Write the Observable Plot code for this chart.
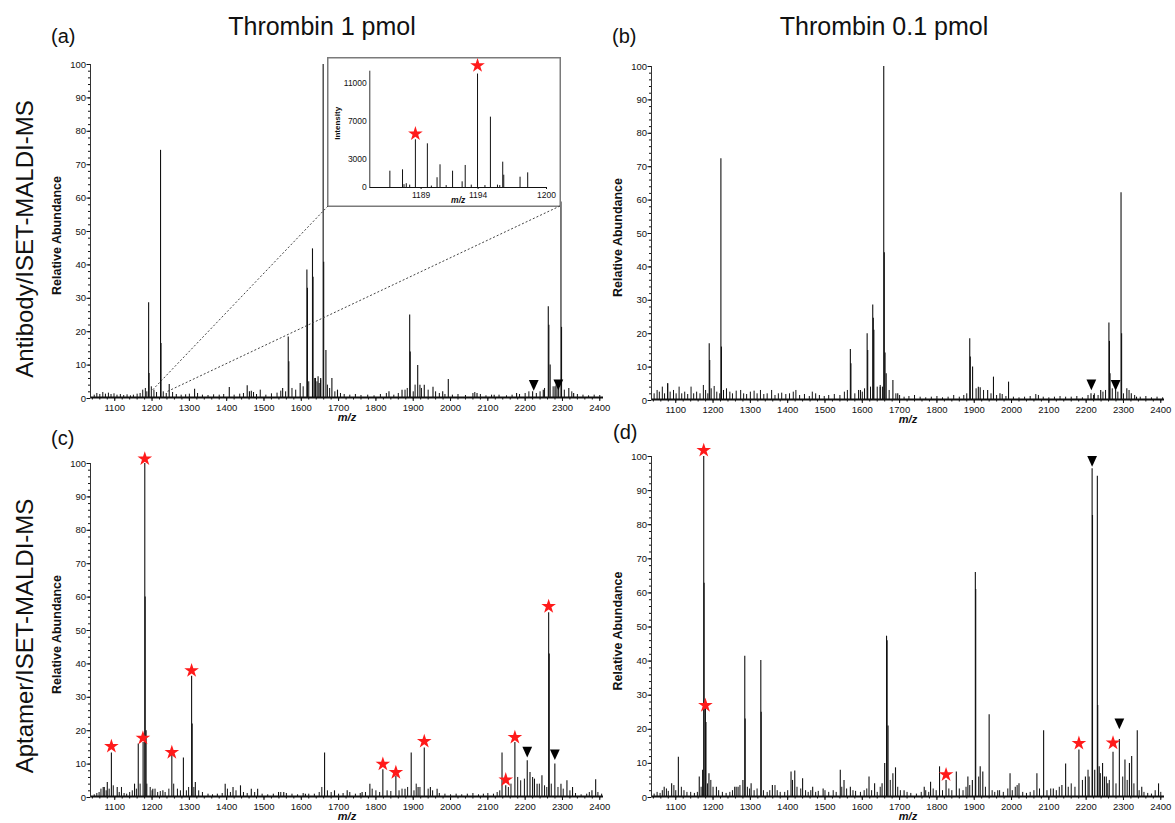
<!DOCTYPE html>
<html><head><meta charset="utf-8">
<script src="https://cdn.jsdelivr.net/npm/d3@7"></script>
<script src="https://cdn.jsdelivr.net/npm/@observablehq/plot@0.6"></script>
<style>
body{margin:0;background:#fff;overflow:hidden}
#root{position:relative;width:1175px;height:823px;overflow:hidden;background:#fff}
</style></head><body><div id="root"></div>
<script>
// ---------- data (m/z, relative abundance) ----------
const xTicks = [1100,1200,1300,1400,1500,1600,1700,1800,1900,2000,2100,2200,2300,2400];
const yTicks = [0,10,20,30,40,50,60,70,80,90,100];
const insetXTicks = [1189,1194,1200];
const insetYTicks = [0,3000,7000,11000];

const peaksA = [[1190.8,28.7],[1192,7.5],[1222.7,74.3],[1224,16.5],[1246,4.2],[1314,2.8],[1407,3.3],[1455,3.8],[1461,2],[1466,2.2],[1550,3],[1565,18.4],[1566.5,11],[1597,4.5],[1615,38.5],[1616.5,33],[1630,44.8],[1631.5,36.3],[1638,6],[1645,6.5],[1652,6],[1658.6,100],[1660,40.8],[1666,14.4],[1682,6],[1697,2.5],[1835,2],[1870,2.5],[1890.5,25],[1892,13.9],[1912,9.9],[1918,4],[1929.6,4],[1953,3.4],[1979,2],[1994,5.7],[2071,1.5],[2117,1],[2177,1.5],[2220,2],[2248.6,2.5],[2262,27.5],[2263.5,21.9],[2267,10],[2280,3.5],[2288,4],[2296,58.8],[2297.5,21.3],[2317,3],[2330,1.5]];
const noiseA = [[1045,1],[1052,1.5],[1060,1.2],[1068,1.8],[1075,1.3],[1083,1.6],[1090,1.2],[1098,1.4],[1106,1],[1115,1.2],[1124,0.9],[1133,1.1],[1142,0.8],[1150,1],[1160,1.3],[1168,1.5],[1175,2.5],[1182,3],[1186,2],[1198,3.5],[1205,2.5],[1212,1.8],[1230,2],[1238,1.5],[1255,1.8],[1265,1.2],[1278,1],[1290,1.1],[1300,1.3],[1322,1.5],[1335,1],[1350,0.9],[1365,1.1],[1380,1],[1392,1.2],[1420,1],[1435,1.3],[1445,1.5],[1472,1.8],[1480,1.2],[1490,2.5],[1505,1],[1520,1.4],[1535,1.6],[1545,2.2],[1558,2],[1575,3],[1585,2.5],[1605,3.5],[1620,5],[1636,6],[1642,5],[1648,4.5],[1652,5.5],[1670,4],[1676,3],[1690,2],[1705,1.5],[1715,1.2],[1730,1],[1745,1.2],[1760,0.9],[1778,1],[1795,0.8],[1812,1.2],[1828,1.5],[1848,1],[1860,1.5],[1878,2.5],[1884,3],[1900,2],[1905,4],[1922,3],[1940,2.5],[1960,2],[1970,1.5],[1985,1.2],[2005,1],[2020,1.2],[2040,0.9],[2060,1.5],[2065,1.8],[2080,1.2],[2095,0.8],[2110,1],[2130,1],[2150,0.8],[2165,1],[2185,1.2],[2200,1.5],[2210,2],[2230,1.5],[2240,2],[2252,3],[2275,3.5],[2283,4],[2290,3],[2305,2.5],[2325,2],[2340,1.2],[2355,1],[2370,0.8],[2385,1],[2400,0.9]];
const trisA = [[2223,3.9],[2289,4.1]];

const peaksB = [[1078.7,5],[1189.7,17],[1191,12],[1221,72.4],[1222.5,16],[1568,15.3],[1569.5,11],[1595,3],[1613,20],[1614.5,15],[1628,28.6],[1629.5,24.6],[1631,21],[1648,4],[1657.5,100],[1659,44.2],[1661,14.2],[1664,8],[1682,6],[1695,2],[1888,18.5],[1889.5,13],[1895.6,10],[1911,4],[1916,3.8],[1936,3],[1951.6,7],[1969,2],[1992,5.5],[2213,2],[2220,1.5],[2239,3],[2261,23.2],[2262.5,17.7],[2264,8],[2279,3],[2293.5,62.2],[2295,20],[2309,3.5],[2321,2],[2335,1]];
const noiseB = [[1042,2],[1050,3],[1056,2.5],[1064,4],[1070,2],[1078,5],[1085,2.5],[1094,3],[1101,2],[1109,4],[1116,2],[1124,2.5],[1132,1.8],[1141,4],[1148,2],[1156,2.5],[1165,2],[1174,4.5],[1180,3],[1186,2],[1195,3.5],[1203,4.2],[1210,2.5],[1218,2],[1228,3],[1236,3.5],[1245,2.5],[1252,2],[1262,2.8],[1274,3],[1282,2],[1290,1.8],[1300,2.5],[1310,2.8],[1318,2],[1327,3],[1336,1.8],[1345,2],[1357,3],[1366,1.5],[1375,2],[1384,2.2],[1395,1.8],[1405,2],[1415,2.5],[1422,3],[1432,1.5],[1445,1.8],[1458,1.2],[1466,2.5],[1475,2],[1485,1.5],[1498,1.2],[1510,1.5],[1525,1.8],[1540,1.5],[1552,2.5],[1560,3],[1580,2],[1590,3],[1600,2.5],[1606,3.5],[1622,4],[1640,4],[1648,4.5],[1654,4],[1672,3],[1690,2],[1700,1.5],[1712,1],[1725,1.2],[1740,1.5],[1755,1],[1770,0.8],[1785,1],[1800,1.2],[1815,0.8],[1830,1],[1845,1.5],[1860,1],[1872,1.5],[1880,2],[1905,3.5],[1925,3],[1945,2],[1960,1.5],[1975,1.8],[1985,1.2],[2005,1],[2020,0.8],[2035,1],[2050,1.2],[2065,1.8],[2072,1.5],[2085,1],[2100,0.8],[2115,1],[2130,1.2],[2145,1],[2160,1],[2175,1.2],[2190,0.8],[2205,1.5],[2222,2],[2232,1.5],[2245,2.5],[2252,3],[2270,3.5],[2285,2.5],[2300,2],[2315,3],[2330,1.5],[2345,1],[2360,1.2],[2375,0.8],[2390,1],[2405,0.8]];
const trisB = [[2214,4.7],[2279,4.5]];

const peaksC = [[1069,3],[1080,4.5],[1091,13.3],[1106.6,3],[1153,4],[1163,16],[1176,16.5],[1180.5,100],[1181.5,60],[1184,20],[1202,2.5],[1229,2],[1253,12.8],[1284,11.8],[1306,36.3],[1307.5,22],[1316,4.5],[1396,4],[1417,3],[1437,3.5],[1466,2.5],[1483,2.5],[1539,1.5],[1553,1.5],[1611,1],[1662.4,13.3],[1689,2],[1723,2],[1763,1.5],[1783.8,4],[1818.6,8.3],[1853.5,6.3],[1878,2.5],[1894.6,13.3],[1913,3],[1929.6,14.8],[1946,3],[1964,2.5],[2138,13.3],[2148,3.5],[2172.5,16.5],[2205.6,11],[2213,7.5],[2220,6],[2225,5.5],[2232,4],[2245,6.5],[2263,55.3],[2264.5,43],[2279.6,10],[2296,4],[2312,5],[2327,3],[2379,2],[2389,5.3]];
const noiseC = [[1045,0.8],[1052,1.2],[1058,1.5],[1063,2.5],[1072,3],[1077,2],[1085,2.5],[1096,3.5],[1112,1.5],[1118,3],[1125,1.2],[1132,1],[1140,1.5],[1147,2],[1158,2.5],[1168,4],[1186,4],[1195,3],[1200,2],[1208,2.5],[1215,1.5],[1222,1.8],[1235,1.5],[1245,2.5],[1258,4],[1268,2.5],[1276,2],[1292,2],[1298,3],[1312,3],[1325,2],[1335,1.5],[1350,1],[1362,0.8],[1375,1],[1388,1.2],[1402,2.5],[1410,1.5],[1425,2],[1445,1.5],[1455,1.2],[1475,1.5],[1495,1],[1510,0.8],[1525,1],[1545,1.5],[1560,1.2],[1575,1],[1590,0.8],[1605,1.2],[1620,1],[1635,1],[1648,1.5],[1655,3],[1670,2],[1680,1.5],[1700,1],[1712,1.2],[1730,1.5],[1745,1],[1758,1.2],[1772,1.5],[1790,2.5],[1800,2],[1810,1.5],[1830,2],[1840,1.8],[1862,2],[1870,2.5],[1885,3],[1902,2],[1908,4],[1918,3],[1940,2.5],[1952,2],[1970,1.2],[1985,1],[2000,0.8],[2015,1],[2030,0.8],[2045,1],[2060,1.2],[2075,0.8],[2088,1],[2100,1.2],[2115,1],[2125,1.5],[2132,2],[2155,3],[2162,4],[2180,6],[2188,5],[2198,5.5],[2238,4],[2252,3.5],[2258,3],[2270,4],[2288,3],[2302,2.5],[2320,2],[2335,1.2],[2350,0.8],[2365,1],[2372,1.5],[2395,1.5],[2405,1]];
const starsC = [[1091,15.3],[1175.5,17.8],[1180.5,101.4],[1253,13.5],[1306,38],[1818.6,10],[1853.5,7.5],[1929.6,16.8],[2148,5.3],[2172.5,18],[2263,57.2]];
const trisC = [[2205.6,13.6],[2279.6,12.8]];

const peaksD = [[1069,3],[1089,4],[1107,11.8],[1163,6],[1172,8],[1175,100],[1176,62.8],[1179.5,26],[1181,22],[1189,7],[1209,3],[1258,3],[1267,3],[1280,5],[1285,41.4],[1286,23],[1302,4],[1328,40.2],[1329,25],[1359,3.5],[1409,7.5],[1419,7.8],[1440,5.5],[1467,3],[1495,2.5],[1541,8],[1551,5],[1568,3],[1618,6],[1633,4],[1653,4],[1660,10],[1665,47.3],[1666.5,46],[1669,21],[1682,7],[1689,8.7],[1712,2],[1766,3],[1783,4.5],[1807,9],[1824.5,5],[1852,7.5],[1883,6],[1895,5],[1903,66],[1904,61],[1916,9],[1923,7.5],[1940,24.3],[1963,2],[1996,7],[2020,4],[2068,7],[2086,19.6],[2112,2.5],[2135,3.5],[2145,9.8],[2180.6,13.9],[2198,6],[2216,96.4],[2217,82.7],[2223,8],[2230,94.2],[2231,27],[2235,9],[2244,10],[2249,6],[2258,4],[2272,13.3],[2289,17],[2304,11],[2316,10],[2322,12],[2337,19.6],[2349,3],[2394,4]];
const noiseD = [[1042,1],[1050,1.5],[1058,1.2],[1064,2],[1075,2.5],[1080,1.8],[1095,3.5],[1100,2],[1115,3],[1122,2],[1130,1.5],[1140,1.5],[1150,1.2],[1158,1.5],[1168,3],[1185,4],[1194,5],[1200,3],[1215,2],[1225,1.5],[1235,1.2],[1245,1.5],[1252,2],[1262,3],[1272,3.5],[1292,3],[1298,2.5],[1310,2],[1318,2.5],[1335,2],[1345,1.5],[1352,2],[1366,3.5],[1372,2],[1380,1.5],[1392,1.5],[1400,2],[1413,5],[1425,3],[1435,2.5],[1448,2],[1455,1.5],[1462,2],[1475,1.5],[1482,1.8],[1500,2],[1510,1.5],[1522,2],[1530,1.5],[1545,3],[1558,2.5],[1575,2],[1582,1.8],[1595,1.5],[1605,2],[1612,2.5],[1625,2],[1640,1.5],[1648,3],[1675,5],[1695,3],[1702,2],[1720,1.5],[1730,1.2],[1745,1],[1758,1.5],[1770,2],[1778,1.5],[1790,2.5],[1798,2],[1815,2],[1832,2.5],[1840,2],[1860,2.5],[1870,2],[1878,3],[1888,3.5],[1912,6],[1930,3],[1948,2],[1955,1.5],[1968,2],[1978,1.5],[1990,2.5],[2002,2],[2010,3],[2015,3.5],[2030,1.5],[2040,1.2],[2050,1.5],[2060,2],[2075,2.5],[2095,2],[2105,2.5],[2120,2],[2128,3],[2152,3],[2160,4],[2170,3],[2190,5],[2205,8],[2208,6],[2238,7],[2254,6],[2262,5],[2280,4],[2298,6],[2310,5],[2328,4],[2342,2],[2355,1.5],[2365,1.2],[2375,1],[2385,2],[2400,1.5]];
const starsD = [[1175,101.8],[1179.5,27],[1824.5,6.7],[2180.6,15.9],[2272,16]];
const trisD = [[2216,98.6],[2289,21.6]];

// inset (m/z, intensity)
const insetPeaks = [[1186.26,1724],[1187.37,1870],[1187.5,300],[1187.7,400],[1188.0,250],[1188.5,5045],[1189.55,4620],[1189.9,150],[1190.4,1030],[1190.66,2400],[1191.2,200],[1191.76,1724],[1192.6,600],[1192.87,2330],[1193.4,250],[1193.95,12000],[1194.6,200],[1195.08,7440],[1195.7,250],[1195.9,200],[1196.16,2680],[1196.25,1300],[1197.68,1090],[1198.35,1550]];
const insetStars = [[1188.5,5680],[1193.95,12900]];

// ---------- drawing ----------
const FONT = '"Liberation Sans", Arial, Helvetica, sans-serif';
const XDOM = [1035, 2410];
const root = document.getElementById("root");
const STAR_RED = "#ff1a1a";
const triDown = {draw(ctx, size){ const w = Math.sqrt(size)*1.45, h = w*1.1; ctx.moveTo(-w/2,-h/2); ctx.lineTo(w/2,-h/2); ctx.lineTo(0,h/2); ctx.closePath(); }};
const X = d => d[0], Y = d => d[1];

function spectrum({peaks, noise, stars = [], tris = [], left, top, height, mt}) {
  const svg = Plot.plot({
    width: 610, height, marginLeft: 90, marginRight: 7, marginTop: mt, marginBottom: 34,
    style: {fontFamily: FONT, fontSize: "9.5px", color: "#111", background: "transparent", overflow: "visible"},
    x: {domain: XDOM},
    y: {domain: [0, 100]},
    marks: [
      Plot.ruleX(noise, {x: X, y1: 0, y2: Y, stroke: "#111", strokeWidth: 1}),
      Plot.ruleX(peaks, {x: X, y1: 0, y2: Y, stroke: "#111", strokeWidth: 1.1}),
      Plot.ruleY([0.3], {stroke: "#111", strokeWidth: 1.8}),
      Plot.ruleX([XDOM[0]], {y1: 0, y2: 100, stroke: "#333", strokeWidth: 1}),
      Plot.axisX({ticks: xTicks, tickSize: 3, tickPadding: 2.5, tickFormat: d => String(d), label: null}),
      Plot.axisX({ticks: d3.range(1040, 2411, 20), tickSize: 1.5, tickFormat: () => "", label: null}),
      Plot.axisY({ticks: yTicks, tickSize: 3.5, tickPadding: 1, tickFormat: d => String(d), label: null}),
      Plot.axisY({ticks: d3.range(0, 101, 2), tickSize: 2, tickFormat: () => "", label: null}),
      Plot.text(["m/z"], {frameAnchor: "bottom", dy: 22.5, fontStyle: "italic", fontWeight: "bold", fontSize: 11}),
      Plot.text(["Relative Abundance"], {frameAnchor: "left", textAnchor: "middle", rotate: -90, dx: -34, dy: 4, fontWeight: "bold", fontSize: 12.5}),
      Plot.dot(stars, {x: X, y: Y, symbol: "star", fill: STAR_RED, stroke: "none", r: 4.6}),
      Plot.dot(tris, {x: X, y: Y, symbol: triDown, fill: "#000", stroke: "none", r: 3.8})
    ]
  });
  svg.style.position = "absolute";
  svg.style.left = left + "px";
  svg.style.top = top + "px";
  root.appendChild(svg);
  return {svg, left, top};
}

const pA = spectrum({peaks: peaksA, noise: noiseA, tris: trisA, left: 0, top: 0, height: 432, mt: 64});
const pB = spectrum({peaks: peaksB, noise: noiseB, tris: trisB, left: 561, top: 2, height: 432, mt: 64});
const pC = spectrum({peaks: peaksC, noise: noiseC, stars: starsC, tris: trisC, left: 0, top: 399, height: 432, mt: 64});
const pD = spectrum({peaks: peaksD, noise: noiseD, stars: starsD, tris: trisD, left: 561, top: 392, height: 439, mt: 64});

// inset
const INSET = {left: 327, top: 57, width: 234, height: 150};
const inset = Plot.plot({
  width: INSET.width, height: INSET.height, marginLeft: 42.3, marginRight: 15, marginTop: 13.7, marginBottom: 20,
  style: {fontFamily: FONT, fontSize: "8.5px", color: "#111", background: "white", overflow: "visible"},
  x: {domain: [1184.5, 1200]},
  y: {domain: [0, 12300]},
  marks: [
    Plot.ruleX(insetPeaks, {x: X, y1: 0, y2: Y, stroke: "#111", strokeWidth: 1}),
    Plot.ruleY([0], {stroke: "#111", strokeWidth: 1.2}),
    Plot.ruleX([1184.5], {y1: 0, y2: 12300, stroke: "#333", strokeWidth: 1}),
    Plot.axisX({ticks: insetXTicks, tickSize: 2, tickPadding: 2, tickFormat: d => String(d), label: null}),
    Plot.axisY({ticks: insetYTicks, tickSize: 0, tickPadding: 3, tickFormat: d => String(d), label: null}),
    Plot.text(["m/z"], {frameAnchor: "bottom", dy: 15.5, fontStyle: "italic", fontWeight: "bold", fontSize: 8.5}),
    Plot.text(["Intensity"], {frameAnchor: "left", textAnchor: "middle", rotate: -90, dx: -32, dy: -6, fontWeight: "bold", fontSize: 8}),
    Plot.dot(insetStars, {x: X, y: Y, symbol: "star", fill: STAR_RED, stroke: "none", r: 4.6})
  ]
});
inset.style.position = "absolute";
inset.style.left = INSET.left + "px";
inset.style.top = INSET.top + "px";
root.appendChild(inset);

// overlay: titles, panel letters, row labels, inset frame and zoom guides
const lin = (s, v) => { const [d0, d1] = s.domain, [r0, r1] = s.range; return r0 + (v - d0) / (d1 - d0) * (r1 - r0); };
const ov = d3.select(root).append("svg")
  .attr("width", 1175).attr("height", 823)
  .style("position", "absolute").style("left", "0px").style("top", "0px")
  .attr("font-family", FONT).attr("fill", "#111");

const titles = [["Thrombin 1 pmol", 322, 35], ["Thrombin 0.1 pmol", 884, 35]];
ov.selectAll("text.title").data(titles).join("text").attr("class", "title")
  .attr("x", d => d[1]).attr("y", d => d[2]).attr("text-anchor", "middle").attr("font-size", 25).text(d => d[0]);

const letters = [["(a)", 51, 43], ["(b)", 612, 43], ["(c)", 51, 445], ["(d)", 613, 439]];
ov.selectAll("text.letter").data(letters).join("text").attr("class", "letter")
  .attr("x", d => d[1]).attr("y", d => d[2]).attr("font-size", 20).text(d => d[0]);

const rows = [["Antibody/ISET-MALDI-MS", 33, 239], ["Aptamer/ISET-MALDI-MS", 33, 636]];
ov.selectAll("text.row").data(rows).join("text").attr("class", "row")
  .attr("transform", d => `translate(${d[1]},${d[2]}) rotate(-90)`).attr("text-anchor", "middle")
  .attr("font-size", 24).text(d => d[0]);

ov.append("rect").attr("x", INSET.left + 0.75).attr("y", INSET.top + 0.75)
  .attr("width", INSET.width - 1.5).attr("height", INSET.height - 1.5)
  .attr("fill", "none").attr("stroke", "#7a7a7a").attr("stroke-width", 1.5);

const sxA = pA.svg.scale("x"), syA = pA.svg.scale("y");
const guideTargets = [[1199, 2], [1243, 2]];
const corners = [[INSET.left + 1, INSET.top + INSET.height - 1], [INSET.left + INSET.width - 1, INSET.top + INSET.height - 1]];
ov.selectAll("line.guide").data(guideTargets).join("line").attr("class", "guide")
  .attr("x1", (d, i) => corners[i][0]).attr("y1", (d, i) => corners[i][1])
  .attr("x2", d => pA.left + lin(sxA, d[0])).attr("y2", d => pA.top + lin(syA, d[1]))
  .attr("stroke", "#444").attr("stroke-width", 1).attr("stroke-dasharray", "2,2");
</script></body></html>
